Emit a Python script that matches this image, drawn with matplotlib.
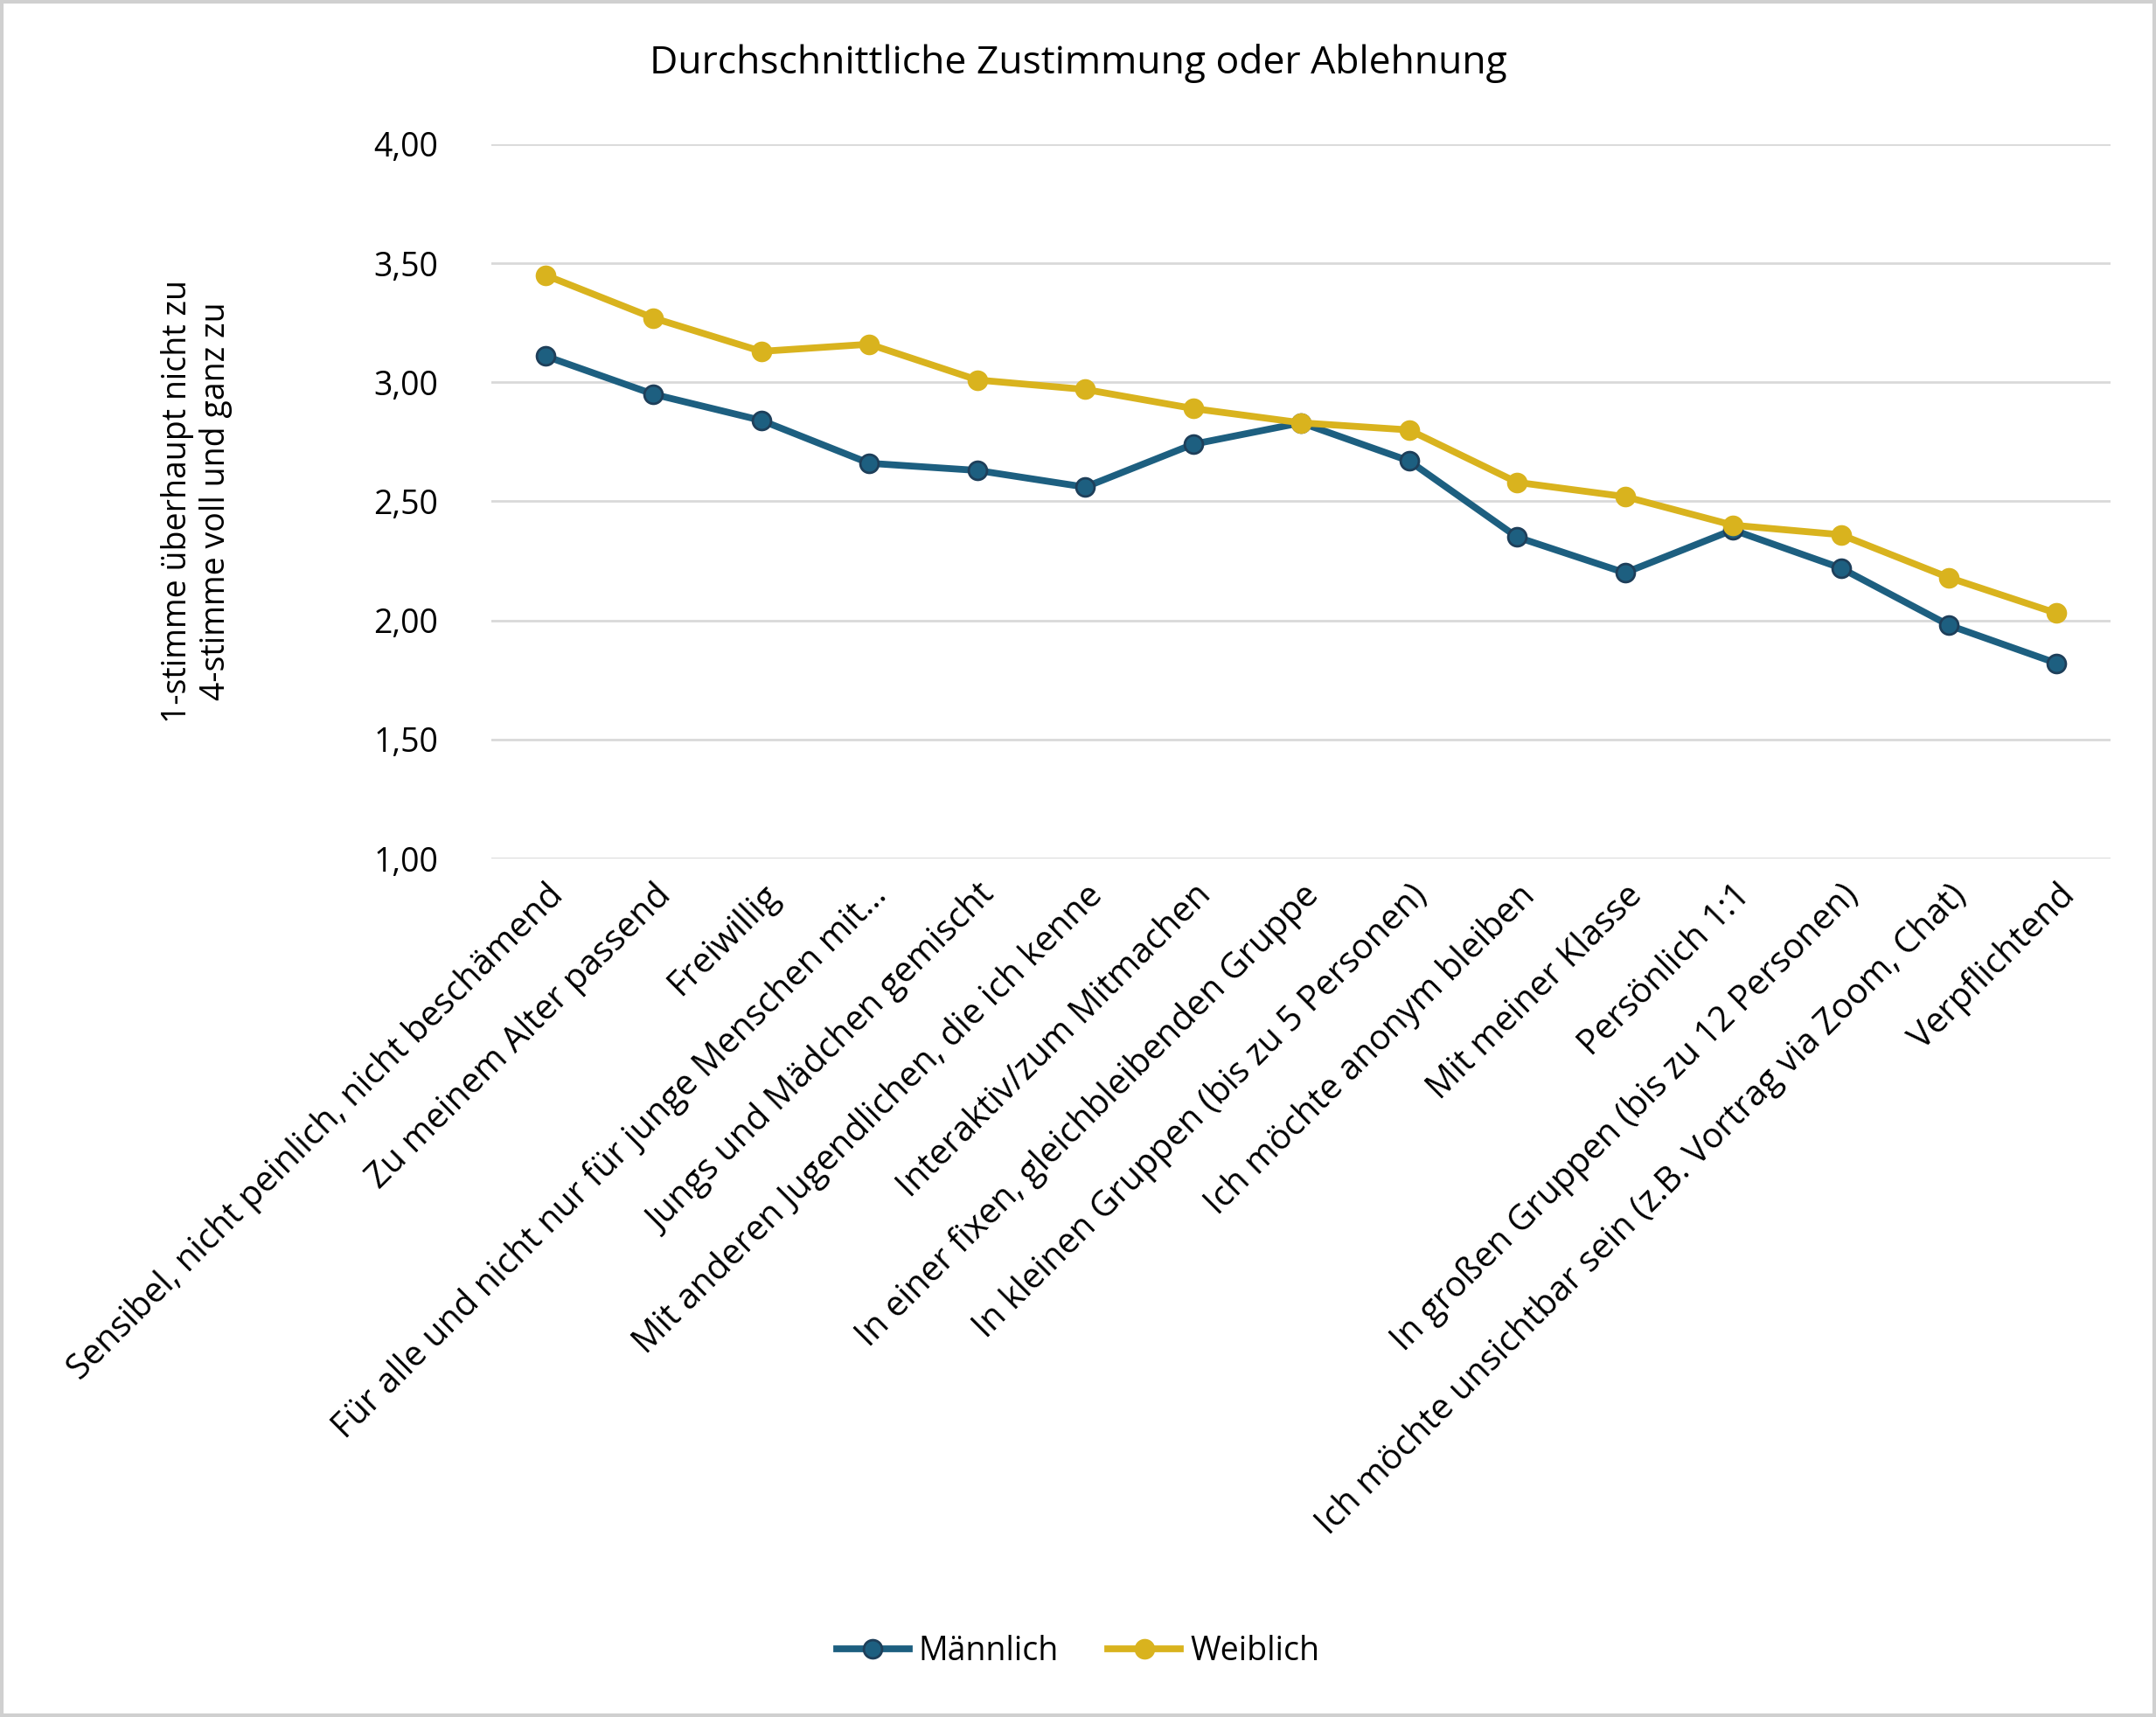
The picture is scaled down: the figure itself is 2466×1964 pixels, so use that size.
import matplotlib
matplotlib.use("Agg")
import matplotlib.pyplot as plt
from matplotlib.patches import Rectangle

plt.rcParams['font.family'] = ['Open Sans', 'DejaVu Sans']

categories = [
    "Sensibel, nicht peinlich, nicht beschämend",
    "Zu meinem Alter passend",
    "Freiwillig",
    "Für alle und nicht nur für junge Menschen mit…",
    "Jungs und Mädchen gemischt",
    "Mit anderen Jugendlichen, die ich kenne",
    "Interaktiv/zum Mitmachen",
    "In einer fixen, gleichbleibenden Gruppe",
    "In kleinen Gruppen (bis zu 5 Personen)",
    "Ich möchte anonym bleiben",
    "Mit meiner Klasse",
    "Persönlich 1:1",
    "In großen Gruppen (bis zu 12 Personen)",
    "Ich möchte unsichtbar sein (z.B. Vortrag via Zoom, Chat)",
    "Verpflichtend",
]
maennlich = [3.11, 2.95, 2.84, 2.66, 2.63, 2.56, 2.74, 2.83, 2.67, 2.35, 2.20, 2.38, 2.22, 1.98, 1.82]
weiblich = [3.45, 3.27, 3.13, 3.16, 3.01, 2.97, 2.89, 2.83, 2.80, 2.58, 2.52, 2.40, 2.36, 2.18, 2.03]
yticks = [1.0, 1.5, 2.0, 2.5, 3.0, 3.5, 4.0]

fig = plt.figure(figsize=(12.33, 9.82), dpi=200)
ax = fig.add_axes([0.228, 0.5, 0.751, 0.416])
x = list(range(len(categories)))
blue = "#1D5F80"
gold = "#D9B31E"
ax.plot(x, maennlich, color=blue, lw=2.8, marker='o', ms=7.5, mfc=blue, mec="#1E3F5A", label="Männlich", zorder=3)
ax.plot(x, weiblich, color=gold, lw=2.8, marker='o', ms=7.5, mfc=gold, mec=gold, label="Weiblich", zorder=3)
ax.set_ylim(1.0, 4.0)
ax.set_xlim(-0.5, len(categories) - 0.5)
ax.set_yticks(yticks)
ax.set_yticklabels([f"{v:.2f}".replace('.', ',') for v in yticks], fontsize=13.5)
ax.yaxis.grid(True, color="#D9D9D9", lw=1)
ax.set_axisbelow(True)
ax.tick_params(length=0, pad=8)
ax.tick_params(axis='y', pad=22)
for s in ax.spines.values():
    s.set_visible(False)
ax.axhline(1.0, color="#D9D9D9", lw=1)
ax.set_xticks(x)
ax.set_xticklabels(categories, rotation=45, ha='right', rotation_mode='anchor', fontsize=14.3)
ax.set_ylabel("1-stimme überhaupt nicht zu\n4-stimme voll und ganz zu", fontsize=13.5, labelpad=58)
fig.text(0.5, 0.963, "Durchschnittliche Zustimmung oder Ablehnung", ha='center', va='center', fontsize=16)
fig.legend(loc='center', bbox_to_anchor=(0.5, 0.038), ncol=2, frameon=False, fontsize=13.5,
           handlelength=2.2, columnspacing=1.5, handletextpad=0.3)
fig.patches.append(Rectangle((0.001, 0.001), 0.998, 0.998, transform=fig.transFigure,
                             fill=False, edgecolor="#D0D0D0", lw=1.5))
fig.savefig("out.png", dpi=200)
